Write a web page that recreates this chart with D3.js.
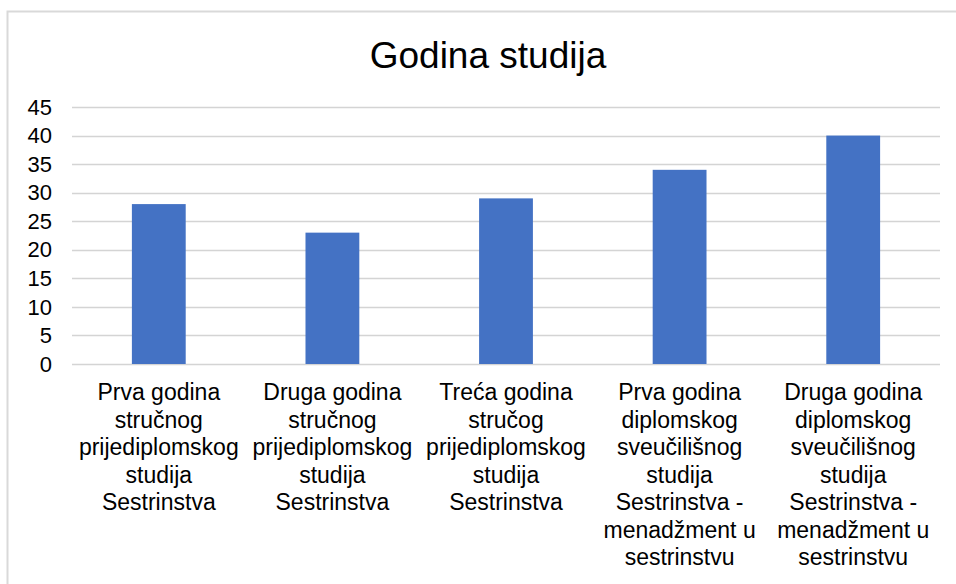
<!DOCTYPE html>
<html>
<head>
<meta charset="utf-8">
<script src="https://cdn.jsdelivr.net/npm/d3@7"></script>
<style>
  body { margin: 0; background: #fff; }
  svg { display: block; font-family: "Liberation Sans", Arial, sans-serif; }
</style>
</head>
<body>
<svg id="chart" width="956" height="584"></svg>
<script>
const title = 'Godina studija'
const categories = [
  ['Prva godina', 'stručnog', 'prijediplomskog', 'studija', 'Sestrinstva'],
  ['Druga godina', 'stručnog', 'prijediplomskog', 'studija', 'Sestrinstva'],
  ['Treća godina', 'stručog', 'prijediplomskog', 'studija', 'Sestrinstva'],
  ['Prva godina', 'diplomskog', 'sveučilišnog', 'studija', 'Sestrinstva -', 'menadžment u', 'sestrinstvu'],
  ['Druga godina', 'diplomskog', 'sveučilišnog', 'studija', 'Sestrinstva -', 'menadžment u', 'sestrinstvu']
]
const values = [28, 23, 29, 34, 40]
const yTicks = [0, 5, 10, 15, 20, 25, 30, 35, 40, 45]

const svg = d3.select('#chart')
const width = 956, height = 584
const margin = { top: 107, right: 16, bottom: 220, left: 72 }

// chart area frame (cut off at right and bottom like the source)
svg.append('rect')
  .attr('x', 7.5).attr('y', 11.5)
  .attr('width', width + 20).attr('height', height + 20)
  .attr('fill', '#fff')
  .attr('stroke', '#d9d9d9')
  .attr('stroke-width', 2)

svg.append('text')
  .attr('x', 488).attr('y', 68)
  .attr('text-anchor', 'middle')
  .attr('font-size', 37)
  .attr('fill', '#000')
  .text(title)

const x = d3.scaleBand()
  .domain(d3.range(categories.length))
  .range([margin.left, width - margin.right])
  .padding(0)

const y = d3.scaleLinear()
  .domain([0, 45])
  .range([height - margin.bottom, margin.top])

// gridlines
svg.append('g')
  .selectAll('line')
  .data(yTicks)
  .join('line')
    .attr('x1', margin.left)
    .attr('x2', width - margin.right)
    .attr('y1', d => Math.round(y(d)) + 0.5)
    .attr('y2', d => Math.round(y(d)) + 0.5)
    .attr('stroke', '#d4d4d4')
    .attr('stroke-width', 1.5)

// y tick labels
svg.append('g')
  .selectAll('text')
  .data(yTicks)
  .join('text')
    .attr('x', 52)
    .attr('y', d => y(d))
    .attr('dy', '0.35em')
    .attr('text-anchor', 'end')
    .attr('font-size', 22)
    .attr('fill', '#000')
    .text(d => d)

// bars
const barW = x.bandwidth() * 0.31
svg.append('g')
  .selectAll('rect')
  .data(values)
  .join('rect')
    .attr('x', (d, i) => x(i) + (x.bandwidth() - barW) / 2)
    .attr('y', d => y(d))
    .attr('width', barW)
    .attr('height', d => y(0) - y(d))
    .attr('fill', '#4472c4')

// category labels
const labels = svg.append('g')
  .selectAll('text')
  .data(categories)
  .join('text')
    .attr('text-anchor', 'middle')
    .attr('font-size', 23)
    .attr('fill', '#000')
    .attr('transform', (d, i) => `translate(${x(i) + x.bandwidth() / 2},${y(0) + 36})`)

labels.selectAll('tspan')
  .data(d => d)
  .join('tspan')
    .attr('x', 0)
    .attr('y', (d, i) => i * 27.5)
    .text(d => d)
</script>
</body>
</html>
